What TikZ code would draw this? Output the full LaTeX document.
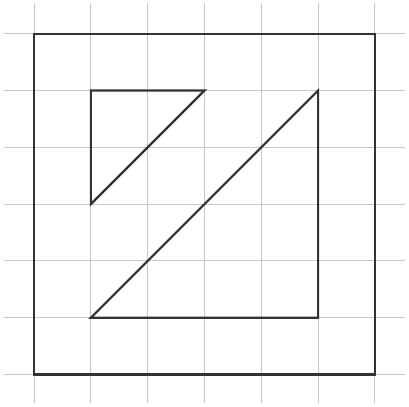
\documentclass[tikz,border=0pt]{standalone}
\begin{document}
\begin{tikzpicture}[x=1cm,y=1cm,
  gridline/.style={line width=0.5pt, draw=black!22},
  outline/.style={line width=1.1pt, draw=black!80, line join=miter}]
\useasboundingbox (-0.6,-0.56) rectangle (6.6,6.593);
\foreach \i in {0,...,6} {
  \draw[gridline] (\i,-0.5) -- (\i,6.54);
  \draw[gridline] (-0.53,\i) -- (6.53,\i);
}
\draw[outline] (0,0) rectangle (6,6);
\draw[outline] (1,5) -- (3,5) -- (1,3) -- cycle;
\draw[outline] (5,5) -- (5,1) -- (1,1) -- cycle;
\end{tikzpicture}
\end{document}
